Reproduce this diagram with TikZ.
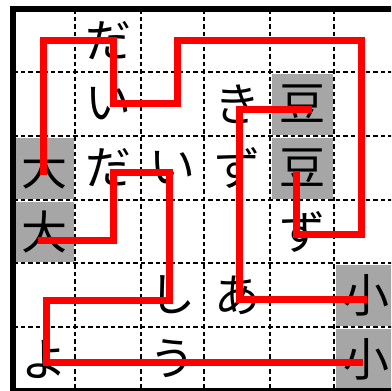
\documentclass[tikz,border=0pt]{standalone}
\usepackage{fontspec}
\newfontfamily\jpfont{Noto Sans CJK JP}
\definecolor{pairgray}{HTML}{A6A6A6}
\tikzset{
  cellchar/.style={font=\jpfont\fontsize{23}{23}\selectfont, inner sep=0pt},
  gridline/.style={black, line width=1.1pt, dash pattern=on 2.25pt off 1.5pt},
  wordpath/.style={red, line width=3.5pt, line cap=butt, line join=miter},
}
\begin{document}
\begin{tikzpicture}[x=0.5pt, y=-0.5pt]
    % 1. Frame of the picture
    \useasboundingbox (0,0) rectangle (391,391);
    \clip (0,0) rectangle (391,391);

    % 2. Grey cells of the three pairs
    \fill[pairgray] (15,138) rectangle (73.5,198.5);
    \fill[pairgray] (15,201.5) rectangle (73.5,261.5);
    \fill[pairgray] (271.5,73.5) rectangle (332.5,134.5);
    \fill[pairgray] (271.5,137.5) rectangle (332.5,198.5);
    \fill[pairgray] (335.5,264.5) rectangle (398,325.5);
    \fill[pairgray] (335.5,328.5) rectangle (398,389);

    % 3. Dashed grid
    \foreach \gx in {75,141,204,270,334}
        \draw[gridline] (\gx,9) -- (\gx,391);
    \foreach \gy in {72,136,200,263,327}
        \draw[gridline] (13,\gy) -- (398,\gy);

    % 4. Thick border
    \draw[line width=3pt] (398,9) -- (13,9) -- (13,391) -- (398,391);

    % 5. Characters in the cells
    \node[cellchar] (da1) at (108,40.5) {だ};
    \node[cellchar] (i1) at (108,104) {い};
    \node[cellchar] (ki) at (237,104) {き};
    \node[cellchar] (mame1) at (302,104) {豆};
    \node[cellchar] (dai1) at (44,168) {大};
    \node[cellchar] (da2) at (108,168) {だ};
    \node[cellchar] (i2) at (172.5,168) {い};
    \node[cellchar] (zu1) at (237,168) {ず};
    \node[cellchar] (mame2) at (302,168) {豆};
    \node[cellchar] (dai2) at (44,231.5) {大};
    \node[cellchar] (zu2) at (302,231.5) {ず};
    \node[cellchar] (shi) at (172.5,295) {し};
    \node[cellchar] (a) at (237,295) {あ};
    \node[cellchar] (sho1) at (366,295) {小};
    \node[cellchar] (yo) at (44,359) {よ};
    \node[cellchar] (u) at (172.5,359) {う};
    \node[cellchar] (sho2) at (366,359) {小};

    % 6. Red word paths
    % 大 -> だいず -> 豆
    \draw[wordpath] (43,175) -- (43,40) -- (113.5,40) -- (113.5,103) -- (177.5,103)
        -- (177.5,40) -- (361,40) -- (361,234) -- (296,234) -- (296,171);
    % 大 -> だいしょう -> 小
    \draw[wordpath] (38,240) -- (113.5,240) -- (113.5,172) -- (169,172) -- (169,300)
        -- (46.5,300) -- (46.5,362) -- (363,362);
    % 豆 -> きずあ -> 小
    \draw[wordpath] (312,109.5) -- (239,109.5) -- (239,299) -- (367,299);
\end{tikzpicture}
\end{document}
